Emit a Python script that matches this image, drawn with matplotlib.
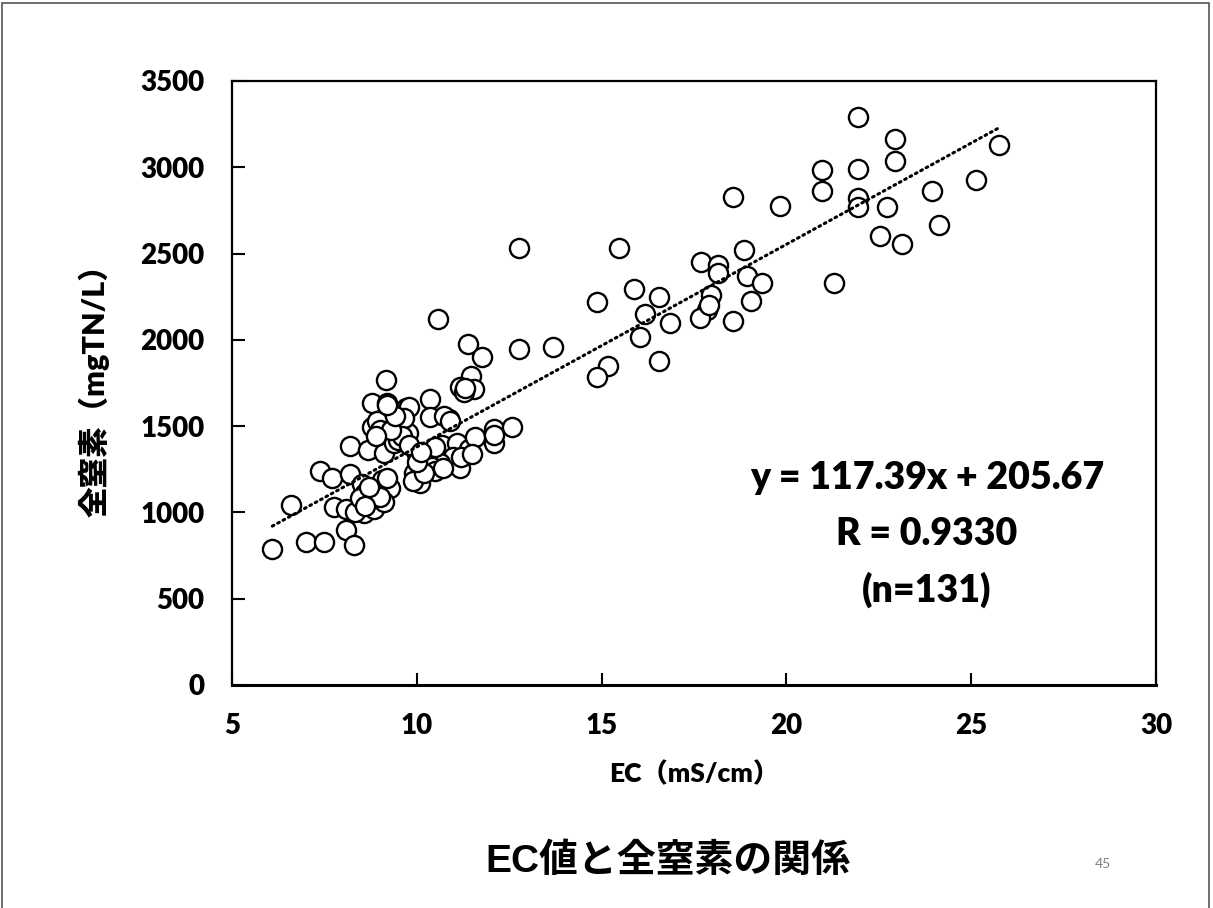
import matplotlib
matplotlib.use("Agg")
import matplotlib.pyplot as plt
from matplotlib.patches import Rectangle
import numpy as np

# EC (mS/cm) and total nitrogen (mgTN/L) for each sample
ec = [
    21.95, 22.94, 22.94, 20.97, 21.95, 20.97, 18.55, 19.84, 21.95, 21.95,
    22.73, 23.93, 25.13, 25.74, 24.13, 22.53, 23.13, 18.85, 21.30, 17.70,
    18.15, 18.15, 18.94, 19.35, 12.77, 15.46, 15.87, 14.88, 16.56, 17.95,
    19.05, 16.17, 17.86, 17.66, 18.55, 16.86, 16.05, 12.77, 13.68, 16.56,
    15.17, 14.88, 10.58, 11.38, 11.77, 11.47, 11.18, 11.54, 11.28, 9.17,
    8.80, 9.19, 9.70, 9.79, 10.36, 10.36, 10.86, 10.74, 8.80, 8.92,
    9.46, 9.77, 9.19, 9.64, 8.18, 8.69, 9.10, 9.37, 10.00, 10.68,
    11.08, 11.41, 11.58, 12.08, 12.10, 12.58, 10.98, 11.18, 10.63, 10.42,
    10.00, 10.09, 9.91, 7.38, 7.70, 8.18, 8.51, 9.05, 9.28, 6.60,
    10.08, 7.77, 8.09, 8.58, 8.99, 8.33, 8.85, 8.74, 8.60, 8.47,
    8.09, 6.09, 7.00, 7.49, 8.29, 9.10, 9.20, 10.50, 9.50, 9.00,
    9.90, 10.20, 9.60, 9.30, 10.90, 11.30, 9.00, 8.70, 10.50, 11.20,
    9.40, 10.00, 8.90, 10.70, 11.50, 9.80, 8.60, 12.10, 9.20, 10.10,
    17.90,
]
tn = [
    3290, 3163, 3038, 2984, 2988, 2862, 2829, 2775, 2820, 2771,
    2767, 2864, 2926, 3132, 2665, 2601, 2553, 2520, 2330, 2450,
    2433, 2385, 2368, 2330, 2534, 2530, 2296, 2217, 2250, 2260,
    2227, 2151, 2172, 2128, 2109, 2099, 2018, 1947, 1956, 1879,
    1850, 1783, 2119, 1976, 1902, 1790, 1728, 1718, 1699, 1767,
    1636, 1636, 1603, 1612, 1657, 1551, 1539, 1558, 1497, 1531,
    1497, 1462, 1448, 1545, 1387, 1362, 1346, 1400, 1338, 1390,
    1404, 1366, 1439, 1482, 1404, 1497, 1323, 1255, 1284, 1261,
    1255, 1211, 1227, 1242, 1197, 1222, 1164, 1188, 1139, 1043,
    1168, 1033, 1020, 998, 1056, 1000, 1018, 1130, 1111, 1082,
    898, 786, 830, 827, 811, 1060, 1200, 1240, 1420, 1480,
    1180, 1230, 1440, 1480, 1530, 1720, 1090, 1150, 1380, 1320,
    1560, 1290, 1440, 1260, 1340, 1390, 1040, 1450, 1620, 1350,
    2200,
]

slope, intercept = 117.39, 205.67
r_value = 0.9330
n_samples = 131

x_ticks = [5, 10, 15, 20, 25, 30]
y_ticks = [0, 500, 1000, 1500, 2000, 2500, 3000, 3500]

latin = ["Lato", "Noto Sans CJK JP"]
title_fonts = ["Liberation Sans", "Noto Sans CJK JP"]

fig = plt.figure(figsize=(12.13, 9.08), dpi=100)
ax = fig.add_axes([0.1913, 0.2456, 0.7617, 0.6652])

ax.scatter(ec, tn, s=190, facecolor="white", edgecolor="black",
           linewidth=1.7, zorder=3)

xs = np.array([min(ec), max(ec)])
ax.plot(xs, slope * xs + intercept, color="black", linestyle=(0, (0.6, 1.4)),
        linewidth=2.2, dash_capstyle="round", zorder=4)

ax.set_xlim(5, 30)
ax.set_ylim(0, 3500)
ax.set_xticks(x_ticks)
ax.set_yticks(y_ticks)
ax.tick_params(direction="in", length=9, width=1.5, labelsize=20, pad=20)
for lab in ax.get_xticklabels() + ax.get_yticklabels():
    lab.set_fontfamily(latin)
    lab.set_fontweight("heavy")
for sp in ax.spines.values():
    sp.set_linewidth(1.6)
ax.spines["bottom"].set_linewidth(2.2)

ax.set_xlabel("EC（mS/cm）", fontsize=19, fontweight="heavy",
              family=latin, labelpad=16)
ax.set_ylabel("全窒素（mgTN/L）", fontsize=22, fontweight="heavy",
              family=latin, labelpad=22)

eq_x = 23.8
ax.text(eq_x, 1200, f"y = {slope}x + {intercept}", ha="center", va="center",
        fontsize=27, fontweight="heavy", family=latin)
ax.text(eq_x, 875, f"R = {r_value:.4f}", ha="center", va="center",
        fontsize=27, fontweight="heavy", family=latin)
ax.text(eq_x, 550, f"(n={n_samples})", ha="center", va="center",
        fontsize=27, fontweight="heavy", family=latin)

fig.text(0.551, 0.051, "EC値と全窒素の関係", ha="center", va="center",
         fontsize=28, fontweight="bold", family=title_fonts)
fig.text(0.909, 0.049, "45", ha="center", va="center", fontsize=10,
         color="#7f7f7f", family=latin)

fig.patches.append(Rectangle((0.002, -0.01), 0.995, 1.007,
                             transform=fig.transFigure, fill=False,
                             edgecolor="#555555", linewidth=1.2))

fig.savefig("out.png", dpi=100, facecolor="white")
